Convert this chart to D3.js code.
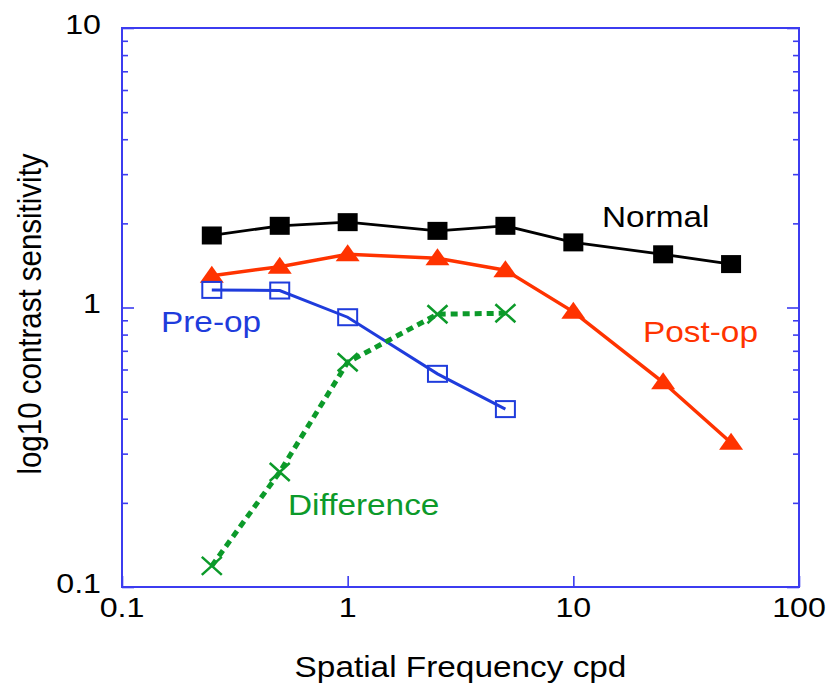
<!DOCTYPE html>
<html>
<head>
<meta charset="utf-8">
<script src="https://cdn.jsdelivr.net/npm/d3@7"></script>
<style>
  body { margin: 0; background: #fff; }
  text { font-family: "Liberation Sans", Arial, Helvetica, sans-serif; }
</style>
</head>
<body>
<div id="chart"></div>
<script>
// data
var freqs = [0.25, 0.5, 1, 2.5, 5, 10, 25, 50];
var normal = [1.81, 1.96, 2.02, 1.88, 1.96, 1.71, 1.55, 1.43];
var postOp = [1.30, 1.40, 1.55, 1.50, 1.36, 0.965, 0.54, 0.328];
var preOp = [1.156, 1.15, 0.923, 0.579, 0.433];
var difference = [0.119, 0.258, 0.637, 0.946, 0.954];
var xTicks = [0.1, 1, 10, 100];
var yTicks = [0.1, 1, 10];
var yMinor = [0.2, 0.3, 0.4, 0.5, 0.6, 0.7, 0.8, 0.9, 2, 3, 4, 5, 6, 7, 8, 9];

var svgWidth = 832, svgHeight = 692;
var margin = {top: 28, right: 33, bottom: 105, left: 122};
var chartWidth = svgWidth - margin.left - margin.right;
var chartHeight = svgHeight - margin.top - margin.bottom;

var axisBlue = '#3c3cf0';
var stretch = 1.15;

var svg = d3.select('#chart').append('svg')
  .attr('width', svgWidth)
  .attr('height', svgHeight);

var chartGroup = svg.append('g')
  .attr('transform', `translate(${margin.left}, ${margin.top})`);

var xScale = d3.scaleLog().domain([0.1, 100]).range([0, chartWidth]);
var yScale = d3.scaleLog().domain([0.1, 10]).range([chartHeight, 0]);

// stretched text helper (the original glyphs look wide)
function label(g, x, y, str, anchor, size, color) {
  g.append('text')
    .attr('transform', `translate(${x}, ${y}) scale(${stretch}, 1)`)
    .attr('text-anchor', anchor)
    .attr('font-size', size)
    .attr('fill', color)
    .text(str);
}

function styleAxis(sel) {
  sel.select('.domain').remove();
  sel.selectAll('line').attr('stroke', axisBlue).attr('stroke-width', 1.6);
}

// y ticks, left + right, pointing inward
chartGroup.append('g')
  .call(d3.axisLeft(yScale).tickValues(yTicks).tickSize(-12).tickFormat(''))
  .call(styleAxis);
chartGroup.append('g')
  .call(d3.axisLeft(yScale).tickValues(yMinor).tickSize(-6).tickFormat(''))
  .call(styleAxis);
chartGroup.append('g')
  .attr('transform', `translate(${chartWidth}, 0)`)
  .call(d3.axisRight(yScale).tickValues(yTicks).tickSize(-12).tickFormat(''))
  .call(styleAxis);
chartGroup.append('g')
  .attr('transform', `translate(${chartWidth}, 0)`)
  .call(d3.axisRight(yScale).tickValues(yMinor).tickSize(-6).tickFormat(''))
  .call(styleAxis);

// x ticks, bottom only
chartGroup.append('g')
  .attr('transform', `translate(0, ${chartHeight})`)
  .call(d3.axisBottom(xScale).tickValues(xTicks).tickSize(-11).tickFormat(''))
  .call(styleAxis);

// frame
chartGroup.append('rect')
  .attr('x', 0).attr('y', 0)
  .attr('width', chartWidth).attr('height', chartHeight)
  .attr('fill', 'none')
  .attr('stroke', axisBlue)
  .attr('stroke-width', 2);

// tick labels
yTicks.forEach(function(t) {
  label(chartGroup, -21, yScale(t) + 5.5, t === 0.1 ? '0.1' : String(t), 'end', 28, '#000');
});
xTicks.forEach(function(t) {
  label(chartGroup, xScale(t), chartHeight + 30, t === 0.1 ? '0.1' : String(t), 'middle', 28, '#000');
});

// axis titles
label(svg, margin.left + chartWidth / 2, 677, 'Spatial Frequency cpd', 'middle', 29, '#000');
svg.append('text')
  .attr('transform', `translate(41, 314) rotate(-90) scale(1, ${stretch})`)
  .attr('text-anchor', 'middle')
  .attr('font-size', 29.5)
  .attr('fill', '#000')
  .text('log10 contrast sensitivity');

var line = d3.line()
  .x(d => xScale(d[0]))
  .y(d => yScale(d[1]));

var series = [
  {name: 'Normal', values: normal, color: '#000', width: 2.8, dash: null},
  {name: 'Post-op', values: postOp, color: '#ff3300', width: 3.5, dash: null},
  {name: 'Pre-op', values: preOp, color: '#1f3cdc', width: 3, dash: null},
  {name: 'Difference', values: difference, color: '#0c9a2a', width: 5, dash: '7,5'}
];

series.forEach(function(s) {
  s.points = s.values.map((v, i) => [freqs[i], v]);
  chartGroup.append('path')
    .datum(s.points)
    .attr('fill', 'none')
    .attr('stroke', s.color)
    .attr('stroke-width', s.width)
    .attr('stroke-dasharray', s.dash)
    .attr('d', line);
});

// markers
chartGroup.selectAll('rect.normal')
  .data(series[0].points)
  .enter()
  .append('rect')
  .attr('class', 'normal')
  .attr('x', d => xScale(d[0]) - 10)
  .attr('y', d => yScale(d[1]) - 9)
  .attr('width', 20)
  .attr('height', 18)
  .attr('fill', '#000');

chartGroup.selectAll('path.post')
  .data(series[1].points)
  .enter()
  .append('path')
  .attr('class', 'post')
  .attr('transform', d => `translate(${xScale(d[0])}, ${yScale(d[1])})`)
  .attr('d', 'M0,-10L12,7L-12,7Z')
  .attr('fill', '#ff3300');

chartGroup.selectAll('rect.pre')
  .data(series[2].points)
  .enter()
  .append('rect')
  .attr('class', 'pre')
  .attr('x', d => xScale(d[0]) - 9.5)
  .attr('y', d => yScale(d[1]) - 8)
  .attr('width', 19)
  .attr('height', 16)
  .attr('fill', 'none')
  .attr('stroke', '#1f3cdc')
  .attr('stroke-width', 2);

chartGroup.selectAll('path.diff')
  .data(series[3].points)
  .enter()
  .append('path')
  .attr('class', 'diff')
  .attr('transform', d => `translate(${xScale(d[0])}, ${yScale(d[1])})`)
  .attr('d', 'M-10,-9L10,9M-10,9L10,-9')
  .attr('stroke', '#0c9a2a')
  .attr('stroke-width', 2.5);

// series labels
label(svg, 602, 227, 'Normal', 'start', 29, '#000');
label(svg, 643, 342, 'Post-op', 'start', 29, '#ff3300');
label(svg, 161, 332, 'Pre-op', 'start', 29, '#1f3cdc');
label(svg, 288, 515, 'Difference', 'start', 29, '#0c9a2a');
</script>
</body>
</html>
